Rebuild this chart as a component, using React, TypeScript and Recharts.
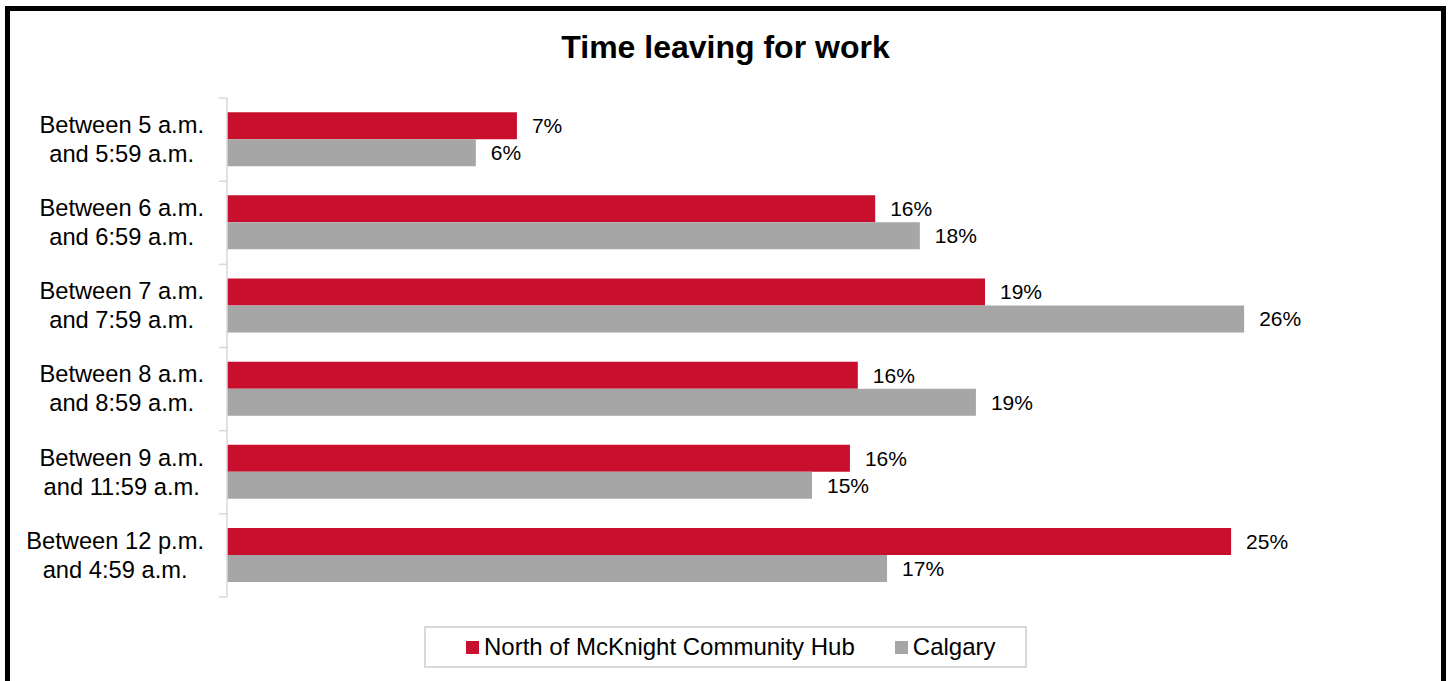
import { BarChart, Bar, XAxis, YAxis, Legend, LabelList } from 'recharts';

const categories = [
  'Between 5 a.m.\nand 5:59 a.m.',
  'Between 6 a.m.\nand 6:59 a.m.',
  'Between 7 a.m.\nand 7:59 a.m.',
  'Between 8 a.m.\nand 8:59 a.m.',
  'Between 9 a.m.\nand 11:59 a.m.',
  'Between 12 p.m.\nand 4:59 a.m.',
];
const hubValues = [7.34, 16.41, 19.19, 15.97, 15.77, 25.42];
const calgaryValues = [6.3, 17.54, 25.75, 18.96, 14.81, 16.71];
const seriesNames = ['North of McKnight Community Hub', 'Calgary'];
const COLORS = ['#c8102e', '#a6a6a6'];

const data = categories.map((name, i) => ({
  name,
  hub: hubValues[i],
  calgary: calgaryValues[i],
}));

const FONT = '"Liberation Sans", Arial, sans-serif';
const W = 1452;
const H = 681;
const PLOT_LEFT = 227;
const PLOT_TOP = 98;
const PLOT_BOTTOM = 597;
const BAND = (PLOT_BOTTOM - PLOT_TOP) / categories.length;
const LABEL_RIGHT = 204;
const CAT_FONT = 23.7;

let ctx: CanvasRenderingContext2D | null = null;
function measure(text: string) {
  if (!ctx) ctx = document.createElement('canvas').getContext('2d');
  if (!ctx) return text.length * CAT_FONT * 0.5;
  ctx.font = `${CAT_FONT}px ${FONT}`;
  return ctx.measureText(text).width;
}

function CategoryTick(props: any) {
  const { y, payload, index } = props;
  const lines = String(payload.value).split('\n');
  const half = BAND / 2;
  const maxW = Math.max(...lines.map(measure));
  const cx = LABEL_RIGHT - maxW / 2;
  return (
    <g>
      <line x1={PLOT_LEFT - 8} x2={PLOT_LEFT} y1={y - half} y2={y - half} stroke="#d9d9d9" strokeWidth={1.5} />
      {index === categories.length - 1 && (
        <line x1={PLOT_LEFT - 8} x2={PLOT_LEFT} y1={y + half} y2={y + half} stroke="#d9d9d9" strokeWidth={1.5} />
      )}
      <text x={cx} y={y} textAnchor="middle" fontSize={CAT_FONT} fill="#000" fontFamily={FONT}>
        <tspan x={cx} dy={-6.6}>{lines[0]}</tspan>
        <tspan x={cx} dy={29}>{lines[1]}</tspan>
      </text>
    </g>
  );
}

function LegendBox() {
  return (
    <div
      style={{
        boxSizing: 'border-box',
        width: 603,
        height: 42,
        border: '2px solid #d9d9d9',
        display: 'flex',
        alignItems: 'center',
        paddingLeft: 40,
        gap: 40,
        fontSize: 24,
        fontFamily: FONT,
        color: '#000',
        background: '#fff',
      }}
    >
      {seriesNames.map((n, i) => (
        <span key={n} style={{ display: 'flex', alignItems: 'center', whiteSpace: 'nowrap' }}>
          <span style={{ width: 13, height: 13, background: COLORS[i], marginRight: 5, display: 'inline-block' }} />
          {n}
        </span>
      ))}
    </div>
  );
}

const pct = (v: any) => `${Math.round(Number(v))}%`;

export default function App() {
  return (
    <div style={{ position: 'absolute', left: 0, top: 0, width: W, height: H, overflow: 'hidden', background: '#fff' }}>
      {/* outer frame */}
      <div
        style={{
          position: 'absolute',
          left: 5,
          top: 6,
          width: 1441,
          height: 720,
          boxSizing: 'border-box',
          border: '5px solid #000',
        }}
      />
      <div
        style={{
          position: 'absolute',
          left: 5,
          width: 1441,
          top: 31,
          textAlign: 'center',
          fontFamily: FONT,
          fontWeight: 'bold',
          fontSize: 32,
          lineHeight: '32px',
          color: '#000',
        }}
      >
        Time leaving for work
      </div>
      <div style={{ position: 'absolute', left: 0, top: 0 }}>
        <BarChart
          width={W}
          height={H}
          data={data}
          layout="vertical"
          barCategoryGap="17%"
          barGap={0}
          margin={{ top: PLOT_TOP, right: W - PLOT_LEFT - 1185, bottom: H - PLOT_BOTTOM, left: 0 }}
          style={{ fontFamily: FONT }}
        >
          <XAxis type="number" domain={[0, 30]} hide />
          <YAxis
            type="category"
            dataKey="name"
            width={PLOT_LEFT}
            interval={0}
            tickLine={false}
            axisLine={{ stroke: '#d9d9d9', strokeWidth: 1.5 }}
            tick={<CategoryTick />}
          />
          <Legend
            layout="horizontal"
            verticalAlign="middle"
            content={() => <LegendBox />}
            wrapperStyle={{ left: 424, top: 626, width: 603, height: 42 }}
          />
          <Bar dataKey="hub" name={seriesNames[0]} fill={COLORS[0]} isAnimationActive={false}>
            <LabelList dataKey="hub" position="right" offset={15} formatter={pct} style={{ fontSize: 21, fill: '#000' }} />
          </Bar>
          <Bar dataKey="calgary" name={seriesNames[1]} fill={COLORS[1]} isAnimationActive={false}>
            <LabelList dataKey="calgary" position="right" offset={15} formatter={pct} style={{ fontSize: 21, fill: '#000' }} />
          </Bar>
        </BarChart>
      </div>
    </div>
  );
}
